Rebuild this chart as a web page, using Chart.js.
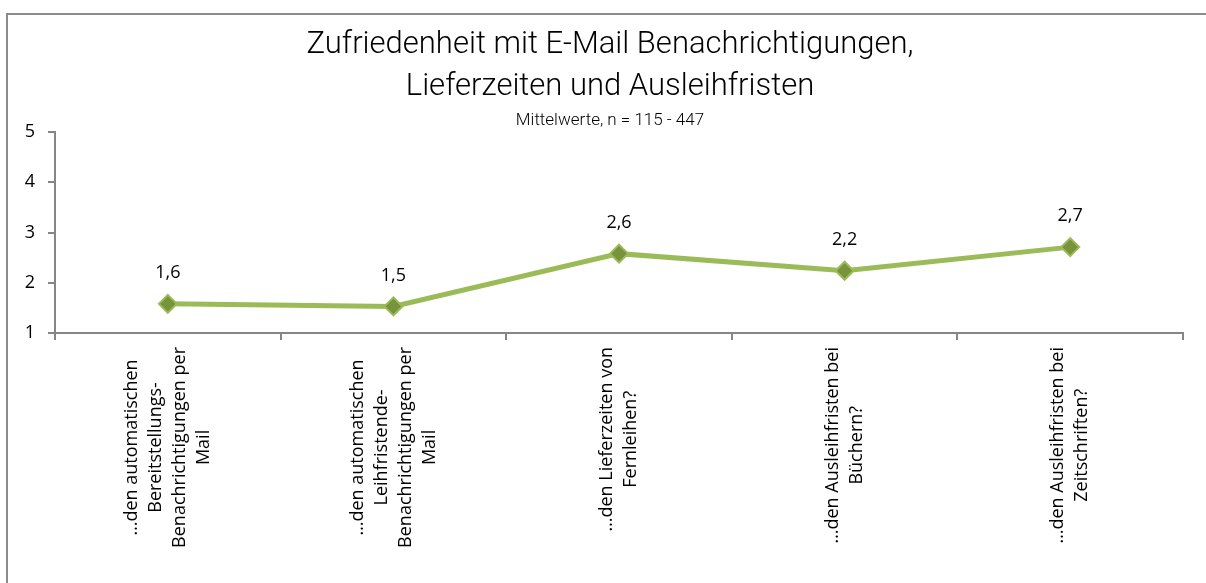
<!DOCTYPE html>
<html>
<head>
<meta charset="utf-8">
<script src="https://cdn.jsdelivr.net/npm/chart.js@4/dist/chart.umd.min.js"></script>
<style>
  body { margin: 0; background: #fff; overflow: hidden; }
  #wrap { position: relative; width: 1206px; height: 583px; }
  #frame { position: absolute; left: 6px; top: 13px; width: 1300px; height: 700px;
           border-left: 2px solid #8c8c8c; border-top: 2px solid #8c8c8c; pointer-events: none; }
</style>
</head>
<body>
<div id="wrap">
  <canvas id="myChart" width="1206" height="583"></canvas>
  <div id="frame"></div>
</div>
<script>
// categories (one array of lines per category)
const categories = [
  ["…den automatischen", "Bereitstellungs-", "Benachrichtigungen per", "Mail"],
  ["…den automatischen", "Leihfristende-", "Benachrichtigungen per", "Mail"],
  ["…den Lieferzeiten von", "Fernleihen?"],
  ["…den Ausleihfristen bei", "Büchern?"],
  ["…den Ausleihfristen bei", "Zeitschriften?"]
];
const meanValues = [1.58, 1.53, 2.58, 2.24, 2.71];
const yMin = 1, yMax = 5, yStep = 1;

const titleLines = ["Zufriedenheit mit E-Mail Benachrichtigungen,", "Lieferzeiten und Ausleihfristen"];
const subtitleText = "Mittelwerte, n = 115 - 447";

const axisGray = "#868686";
const labelFont = "'Open Sans', sans-serif";

// value labels above the points
const valueLabels = {
  id: "valueLabels",
  afterDatasetsDraw(chart) {
    const ctx = chart.ctx;
    const meta = chart.getDatasetMeta(0);
    ctx.save();
    ctx.font = "18px " + labelFont;
    ctx.fillStyle = "#000";
    ctx.textAlign = "center";
    ctx.textBaseline = "middle";
    meta.data.forEach((pt, i) => {
      ctx.fillText(meanValues[i].toFixed(1).replace(".", ","), pt.x, pt.y - 31);
    });
    ctx.restore();
  }
};

// vertical category labels, lines centred on each other
const categoryLabels = {
  id: "categoryLabels",
  afterDraw(chart) {
    const ctx = chart.ctx;
    const xs = chart.scales.x;
    const top = chart.chartArea.bottom + 14;
    const lineH = 24;
    ctx.save();
    ctx.font = "18px " + labelFont;
    ctx.fillStyle = "#000";
    ctx.textAlign = "center";
    ctx.textBaseline = "middle";
    categories.forEach((lines, i) => {
      const cx = xs.getPixelForValue(i);
      const maxW = Math.max(...lines.map(l => ctx.measureText(l).width));
      ctx.save();
      ctx.translate(cx, top);
      ctx.rotate(-Math.PI / 2);
      lines.forEach((l, j) => {
        ctx.fillText(l, -maxW / 2, (j - (lines.length - 1) / 2) * lineH);
      });
      ctx.restore();
    });
    ctx.restore();
  }
};

const ctx = document.getElementById("myChart");
const myChart = new Chart(ctx, {
  type: "line",
  plugins: [valueLabels, categoryLabels],
  data: {
    labels: categories.map(c => c.join(" ")),
    datasets: [{
      data: meanValues,
      borderColor: "#9BBB59",
      borderWidth: 5,
      pointStyle: "rectRot",
      pointRadius: 9,
      pointHoverRadius: 9,
      pointBackgroundColor: "#77933C",
      pointBorderColor: "#9BBB59",
      pointBorderWidth: 2,
      tension: 0
    }]
  },
  options: {
    responsive: false,
    animation: false,
    layout: { padding: { left: 14, right: 0, top: 0, bottom: 243 } },
    plugins: {
      legend: { display: false },
      tooltip: { enabled: false },
      title: {
        display: true,
        text: titleLines,
        color: "#000",
        font: { family: "Roboto", size: 31, weight: 300, lineHeight: 1.35 },
        padding: { top: 24, bottom: 0 }
      },
      subtitle: {
        display: true,
        text: subtitleText,
        color: "#000",
        font: { family: "Roboto", size: 17, weight: 300, lineHeight: 1.2 },
        padding: { top: 3, bottom: 1 }
      }
    },
    scales: {
      x: {
        offset: true,
        grid: { offset: true, drawOnChartArea: false, drawTicks: true, tickLength: 7, color: axisGray, lineWidth: 2 },
        border: { color: axisGray, width: 2 },
        ticks: { display: false }
      },
      y: {
        min: yMin,
        max: yMax,
        afterFit(scale) { scale.width = 41; },
        grid: { drawOnChartArea: false, drawTicks: true, tickLength: 7, color: axisGray, lineWidth: 2 },
        border: { color: axisGray, width: 2 },
        ticks: {
          stepSize: yStep,
          padding: 13,
          color: "#000",
          font: { family: labelFont, size: 18 }
        }
      },
      // empty right margin so the title centres like the original
      yRight: {
        position: "right",
        min: yMin,
        max: yMax,
        afterFit(scale) { scale.width = 23; },
        grid: { display: false },
        border: { display: false },
        ticks: { display: false }
      }
    }
  }
});
</script>
</body>
</html>
